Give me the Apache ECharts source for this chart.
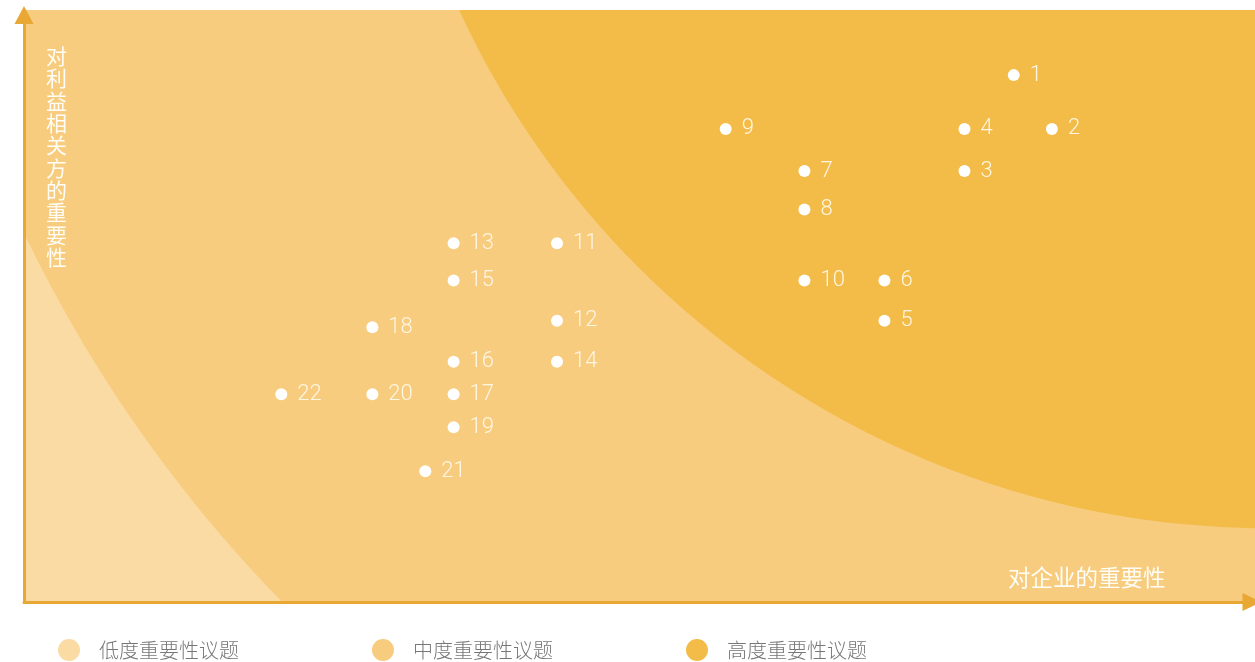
<!DOCTYPE html>
<html>
<head>
<meta charset="utf-8">
<script src="https://cdn.jsdelivr.net/npm/echarts@6/dist/echarts.min.js"></script>
<style>
html,body{margin:0;padding:0;background:#fff;}
#chart{width:1255px;height:662px;}
</style>
</head>
<body>
<div id="chart"></div>
<script>
// ---- data ----
var issueLabels = ['1','2','3','4','5','6','7','8','9','10','11','12','13','14','15','16','17','18','19','20','21','22'];
var companyImportance = [80.4, 83.5, 76.4, 76.4, 69.9, 69.9, 63.4, 63.4, 57.0, 63.4, 43.3, 43.3, 34.9, 43.3, 34.9, 34.9, 34.9, 28.3, 34.9, 28.3, 32.6, 20.9];
var stakeholderImportance = [89.0, 79.9, 72.8, 79.9, 47.5, 54.3, 72.8, 66.3, 79.9, 54.3, 60.6, 47.5, 60.6, 40.6, 54.3, 40.6, 35.1, 46.4, 29.5, 35.1, 22.1, 35.1];
var levelNames = ['低度重要性议题', '中度重要性议题', '高度重要性议题'];
// region geometry in axis units: [centerX, centerY, radius (in x units)]
var regionCenter = [101.1, 163.0];
var mediumRadius = 112.1;
var highRadius = 72.4;
var axisRange = [0, 100];
var xTitle = '对企业的重要性';
var yTitle = '对利益相关方的重要性';

var colors = ['#FADBA4', '#F7CC7E', '#F3BB47'];
var axisColor = '#E9A733';

var points = companyImportance.map(function (x, i) {
  return { value: [x, stakeholderImportance[i]], name: issueLabels[i] };
});

function circleItem(params, api) {
  var c = api.coord([api.value(0), api.value(1)]);
  var r = api.size([api.value(2), 0])[0];
  return { type: 'circle', shape: { cx: c[0], cy: c[1], r: r }, style: { fill: api.visual('color') } };
}
function rectItem(params, api) {
  var p0 = api.coord([api.value(0), api.value(3)]);
  var p1 = api.coord([api.value(2), api.value(1)]);
  return { type: 'rect', shape: { x: p0[0], y: p0[1], width: p1[0] - p0[0], height: p1[1] - p0[1] }, style: { fill: api.visual('color') } };
}

var chart = echarts.init(document.getElementById('chart'), null, { renderer: 'canvas' });
chart.setOption({
  animation: false,
  grid: { left: 24, right: 0, top: 10, bottom: 60 },
  legend: {
    data: levelNames,
    left: 58,
    top: 639,
    padding: 0,
    icon: 'circle',
    itemWidth: 22,
    itemHeight: 22,
    itemGap: 133,
    selectedMode: false,
    textStyle: { fontSize: 20, color: '#777777', padding: [0, 0, 0, 14], fontFamily: 'Noto Sans CJK SC', fontWeight: 300 }
  },
  xAxis: {
    type: 'value', min: axisRange[0], max: axisRange[1], z: 10,
    splitLine: { show: false }, axisTick: { show: false }, axisLabel: { show: false },
    axisLine: { show: true, lineStyle: { color: axisColor, width: 3 }, symbol: ['none', 'triangle'], symbolSize: [18, 19], symbolOffset: [0, -3] },
    name: xTitle, nameLocation: 'end', nameGap: -247,
    nameTextStyle: { color: '#FFFDF5', fontSize: 22.5, fontFamily: 'Noto Sans CJK SC', fontWeight: 400, align: 'left', verticalAlign: 'bottom', padding: [0, 0, 13, 0] }
  },
  yAxis: {
    type: 'value', min: axisRange[0], max: axisRange[1], z: 10,
    splitLine: { show: false }, axisTick: { show: false }, axisLabel: { show: false },
    axisLine: { show: true, lineStyle: { color: axisColor, width: 3 }, symbol: ['none', 'triangle'], symbolSize: [19, 18], symbolOffset: [0, -5] },
    name: yTitle.split('').join('\n'), nameLocation: 'end', nameGap: -35,
    nameTextStyle: { color: '#FFFDF5', fontSize: 21, lineHeight: 22.3, fontFamily: 'Noto Sans CJK SC', fontWeight: 400, align: 'left', verticalAlign: 'top', padding: [0, 0, 0, 22] }
  },
  series: [
    { name: levelNames[0], type: 'custom', clip: true, silent: true, itemStyle: { color: colors[0] }, renderItem: rectItem, data: [[axisRange[0], axisRange[0], axisRange[1], axisRange[1]]], z: 1 },
    { name: levelNames[1], type: 'custom', clip: true, silent: true, itemStyle: { color: colors[1] }, renderItem: circleItem, data: [[regionCenter[0], regionCenter[1], mediumRadius]], z: 2 },
    { name: levelNames[2], type: 'custom', clip: true, silent: true, itemStyle: { color: colors[2] }, renderItem: circleItem, data: [[regionCenter[0], regionCenter[1], highRadius]], z: 3 },
    {
      name: 'issues', type: 'scatter', z: 5, symbol: 'circle', symbolSize: 12,
      itemStyle: { color: '#FFFFFF', opacity: 1 },
      label: { show: true, position: 'right', distance: 10, formatter: '{b}', color: '#FFF6E2', fontSize: 22, fontFamily: 'Roboto', fontWeight: 300 },
      data: points
    }
  ]
});
</script>
</body>
</html>
